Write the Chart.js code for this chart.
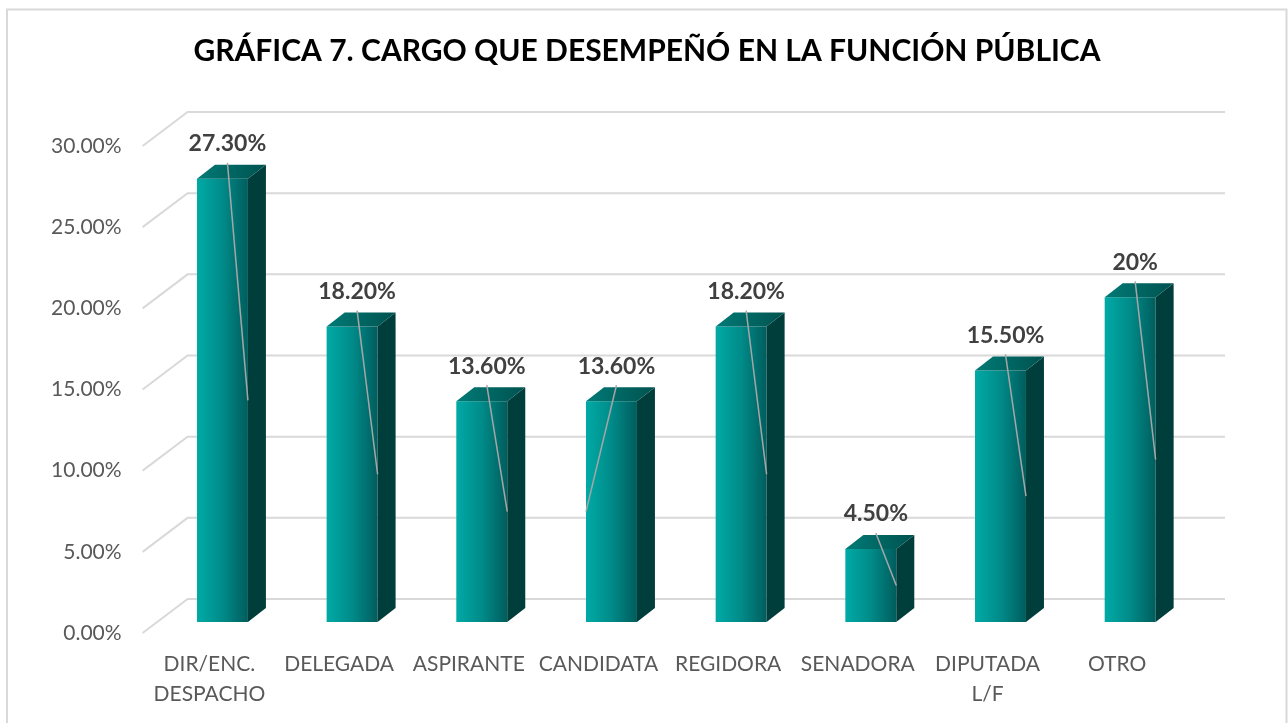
<!DOCTYPE html>
<html>
    <head>
        <meta charset="utf-8">
        <script src="https://cdn.jsdelivr.net/npm/chart.js@4.4.1/dist/chart.umd.min.js"></script>
        <style>
            html, body { margin: 0; padding: 0; background: #fff; }
            .chart-container { position: relative; width: 1288px; height: 723px; }
        </style>
    </head>
    <body>
        <div class="chart-container">
            <canvas id="myChart"></canvas>
        </div>

        <script>
            const TITLE = 'GRÁFICA 7. CARGO QUE DESEMPEÑÓ EN LA FUNCIÓN PÚBLICA';
            const categories = [['DIR/ENC.', 'DESPACHO'], 'DELEGADA', 'ASPIRANTE', 'CANDIDATA', 'REGIDORA', 'SENADORA', ['DIPUTADA', 'L/F'], 'OTRO'];
            const percentages = [27.3, 18.2, 13.6, 13.6, 18.2, 4.5, 15.5, 20];
            const valueLabels = ['27.30%', '18.20%', '13.60%', '13.60%', '18.20%', '4.50%', '15.50%', '20%'];
            const yTicks = [0, 5, 10, 15, 20, 25, 30];

            const FONT = 'Lato';
            const BAR_PCT = 0.393;
            // depth of the 3d effect (bar side, and floor/back wall of the grid)
            const DEPTH = { x: 18, y: -14 };
            const BACK = { x: 30, y: -23 };
            const FRONT = { x: -15, y: 11 };

            const CTX = document.getElementById('myChart').getContext('2d');

            function frontGradient(context) {
                const chart = context.chart;
                const xs = chart.scales.x;
                if (!xs || !chart.chartArea) return '#008a88';
                const w = (xs.right - xs.left) / categories.length * BAR_PCT;
                const cx = xs.getPixelForValue(context.dataIndex);
                const g = chart.ctx.createLinearGradient(cx - w / 2, 0, cx + w / 2, 0);
                g.addColorStop(0, '#00aaa6');
                g.addColorStop(0.5, '#008b89');
                g.addColorStop(1, '#005d5d');
                return g;
            }

            const decorations = {
                id: 'decorations',
                beforeDraw(chart) {
                    const ctx = chart.ctx;
                    ctx.save();
                    ctx.strokeStyle = '#d9d9d9';
                    ctx.lineWidth = 2;
                    ctx.strokeRect(7, 9.5, 1279.5, 730);
                    ctx.fillStyle = '#000';
                    ctx.font = 'bold 30px ' + FONT;
                    ctx.textAlign = 'center';
                    ctx.textBaseline = 'middle';
                    ctx.fillText(TITLE, 647, 51);
                    ctx.restore();
                },
                beforeDatasetsDraw(chart) {
                    const ctx = chart.ctx;
                    const ys = chart.scales.y;
                    const area = chart.chartArea;
                    ctx.save();
                    ctx.strokeStyle = '#d9d9d9';
                    ctx.lineWidth = 2;
                    yTicks.forEach((v) => {
                        const y = ys.getPixelForValue(v);
                        ctx.beginPath();
                        ctx.moveTo(area.left + FRONT.x, y + FRONT.y);
                        ctx.lineTo(area.left + BACK.x, y + BACK.y);
                        ctx.lineTo(area.right + BACK.x, y + BACK.y);
                        ctx.stroke();
                    });
                    ctx.restore();
                },
                afterDatasetsDraw(chart) {
                    const ctx = chart.ctx;
                    const meta = chart.getDatasetMeta(0);
                    ctx.save();
                    meta.data.forEach((bar, i) => {
                        const left = bar.x - bar.width / 2;
                        const right = bar.x + bar.width / 2;
                        const top = bar.y;
                        const bottom = bar.base;
                        // right side
                        ctx.fillStyle = '#003e3c';
                        ctx.beginPath();
                        ctx.moveTo(right, top);
                        ctx.lineTo(right + DEPTH.x, top + DEPTH.y);
                        ctx.lineTo(right + DEPTH.x, bottom + DEPTH.y);
                        ctx.lineTo(right, bottom);
                        ctx.closePath();
                        ctx.fill();
                        // top
                        const g = ctx.createLinearGradient(left, 0, right + DEPTH.x, 0);
                        g.addColorStop(0, '#007a76');
                        g.addColorStop(1, '#00524f');
                        ctx.fillStyle = g;
                        ctx.beginPath();
                        ctx.moveTo(left, top);
                        ctx.lineTo(left + DEPTH.x, top + DEPTH.y);
                        ctx.lineTo(right + DEPTH.x, top + DEPTH.y);
                        ctx.lineTo(right, top);
                        ctx.closePath();
                        ctx.fill();

                        // value label and its leader line
                        const lx = bar.x + 5;
                        const ly = top - 35;
                        const toLeft = categories[i] === 'CANDIDATA';
                        ctx.strokeStyle = '#a6a6a6';
                        ctx.lineWidth = 1.5;
                        ctx.beginPath();
                        ctx.moveTo(lx, ly + 19);
                        ctx.lineTo(toLeft ? left : right, (top + bottom) / 2);
                        ctx.stroke();

                        ctx.fillStyle = '#404040';
                        ctx.font = 'bold 23px ' + FONT;
                        ctx.textAlign = 'center';
                        ctx.textBaseline = 'middle';
                        ctx.fillText(valueLabels[i], lx, ly);
                    });
                    ctx.restore();
                }
            };

            const CONFIG = {
                type: 'bar',
                data: {
                    labels: categories,
                    datasets: [{
                        data: percentages,
                        backgroundColor: frontGradient,
                        borderWidth: 0,
                        barPercentage: BAR_PCT,
                        categoryPercentage: 1,
                    }],
                },
                options: {
                    responsive: true,
                    maintainAspectRatio: false,
                    animation: false,
                    layout: { padding: { top: 135, right: 93, left: 0, bottom: 0 } },
                    plugins: {
                        legend: { display: false },
                        tooltip: { enabled: false },
                    },
                    scales: {
                        x: {
                            grid: { display: false, drawTicks: false },
                            border: { display: false },
                            ticks: {
                                color: '#595959',
                                font: { family: FONT, size: 21, lineHeight: 1.43 },
                                padding: 27,
                                labelOffset: -13,
                                autoSkip: false,
                                maxRotation: 0,
                            },
                            afterFit: (s) => { s.height = 101; },
                        },
                        y: {
                            min: 0,
                            max: 30,
                            grid: { display: false, drawTicks: false },
                            border: { display: false },
                            ticks: {
                                stepSize: 5,
                                color: '#595959',
                                font: { family: FONT, size: 21 },
                                padding: 36,
                                labelOffset: 11,
                                callback: (v) => v.toFixed(2) + '%',
                            },
                            afterFit: (s) => { s.width = 157.6; },
                        },
                    },
                },
                plugins: [decorations],
            };

            let chart = new Chart(CTX, CONFIG);
        </script>
    </body>
</html>
